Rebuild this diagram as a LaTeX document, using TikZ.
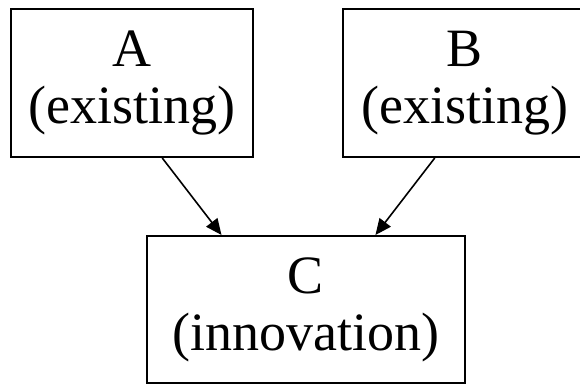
\documentclass[tikz,border=0pt]{standalone}
\usepackage{fontspec}
\setmainfont{Liberation Serif}
\usetikzlibrary{arrows.meta,calc}
\begin{document}
\begin{tikzpicture}[x=1pt,y=-1pt,
  box/.style={draw=black,line width=2pt,inner sep=0pt,align=center,
    font=\fontsize{54}{57}\selectfont},
  arr/.style={draw=black,line width=1.6pt,-{Triangle[length=16pt,width=14pt]}}]
\clip (0,0) rectangle (580,385);
\fill[white] (0,0) rectangle (580,385);
\node[box,minimum width=242pt,minimum height=148pt] (A) at (132,83) {A\\(existing)};
\node[box,minimum width=244pt,minimum height=148pt] (B) at (465,83) {B\\(existing)};
\node[box,minimum width=318pt,minimum height=147pt] (C) at (306,309.5) {C\\(innovation)};
\draw[arr] ($(A.south west)!0.624!(A.south east)$) -- ($(C.north west)!0.236!(C.north east)$);
\draw[arr] ($(B.south west)!0.377!(B.south east)$) -- ($(C.north west)!0.717!(C.north east)$);
\end{tikzpicture}
\end{document}
